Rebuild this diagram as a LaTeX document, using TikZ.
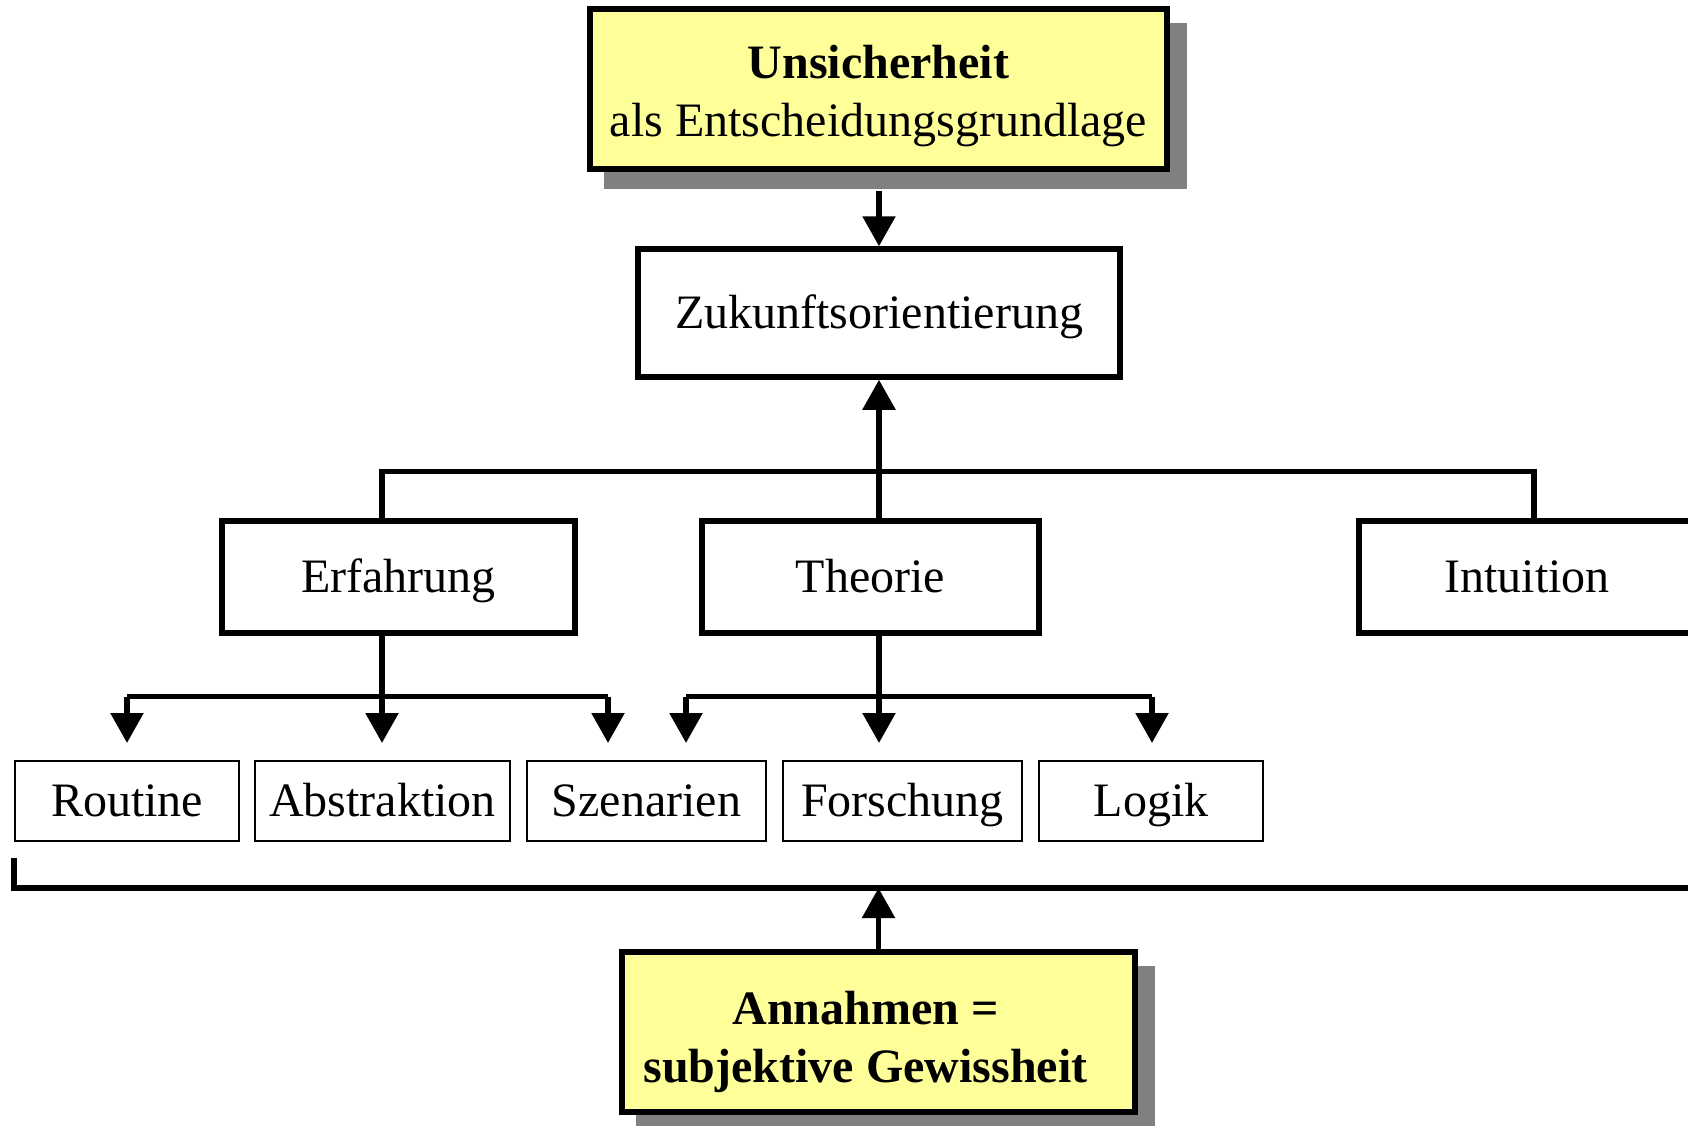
\documentclass[tikz,border=0pt]{standalone}
\usepackage{fontspec}
\setmainfont{Liberation Serif}
\usetikzlibrary{arrows.meta,backgrounds}
\definecolor{boxyellow}{HTML}{FFFF99}
\definecolor{shadowgray}{HTML}{808080}

\begin{document}
\begin{tikzpicture}[x=1pt,y=-1pt,
  font=\fontsize{48}{58}\selectfont,
  mainbox/.style={draw, line width=5.5pt, inner sep=0pt, align=center},
  hibox/.style={mainbox, fill=boxyellow},
  oneline/.style={text height=42.4pt, text depth=10.6pt},
  subbox/.style={draw, line width=2pt, inner sep=0pt, minimum height=80pt, oneline},
  conn/.style={line width=5.5pt},
  arr/.style={conn, -{Triangle[length=30pt,width=32pt]}},
  shadowfill/.style={fill=shadowgray}
]
\useasboundingbox (0,0) rectangle (1688,1126);

% top and bottom highlighted boxes
\node[hibox, minimum width=577pt, minimum height=160pt, text height=106.5pt, text depth=10.5pt]
  (top) at (878.5,89)
  {\textbf{Unsicherheit}\\als Entscheidungsgrundlage};
\node[hibox, minimum width=513pt, minimum height=160pt, text height=110.5pt, text depth=10.5pt]
  (ann) at (878.5,1032)
  {\textbf{Annahmen =}\hspace*{26pt}\\\textbf{subjektive Gewissheit}\hspace*{26pt}};

% middle level
\node[mainbox, oneline, minimum width=482pt, minimum height=128pt] (zuk) at (879,313) {Zukunftsorientierung};
\node[mainbox, oneline, minimum width=353pt, minimum height=112pt] (erf) at (398.5,577) {Erfahrung};
\node[mainbox, oneline, minimum width=337pt, minimum height=112pt] (theo) at (870.5,577) {Theorie};
\node[mainbox, oneline, minimum width=336pt, minimum height=112pt] (int) at (1527,577) {Intuition};

% lower level
\node[subbox, minimum width=224pt] (rout) at (127,801) {Routine};
\node[subbox, minimum width=255pt] (abs) at (382.5,801) {Abstraktion};
\node[subbox, minimum width=239pt] (szen) at (646.5,801) {Szenarien};
\node[subbox, minimum width=239pt] (forsch) at (902.5,801) {Forschung};
\node[subbox, minimum width=224pt] (logik) at (1151,801) {Logik};

% drop shadows
\begin{scope}[on background layer]
  \fill[shadowfill] ([xshift=17pt,yshift=-17pt]top.south west) rectangle ([xshift=17pt,yshift=-17pt]top.north east);
  \fill[shadowfill] ([xshift=17pt,yshift=-17pt]ann.south west) rectangle ([xshift=17pt,yshift=-17pt]ann.north east);
\end{scope}

% helper coordinates
\coordinate (barL) at (382,471.5);
\coordinate (barR) at (1534,471.5);
\coordinate (ebar) at (382,696.5);
\coordinate (tbar) at (879,696.5);
\coordinate (t1) at (127,743);
\coordinate (t2) at (382,743);
\coordinate (t3) at (608,743);
\coordinate (t4) at (686,743);
\coordinate (t5) at (879,743);
\coordinate (t6) at (1152,743);
\coordinate (bk1) at (14,858);
\coordinate (bk2) at (14,888);
\coordinate (bk3) at (1700,888);

% top to Zukunftsorientierung (starts below the shadow)
\draw[arr] ([yshift=-19pt]top.south -| zuk.north) -- (zuk.north);

% upper tree
\draw[conn] (barL |- erf.north) -- (barL) -- (barR) -- (barR |- int.north);
\draw[arr] (theo.north -| zuk.south) -- (zuk.south);

% Erfahrung branches
\draw[conn] (t1 |- ebar) -- (t3 |- ebar);
\draw[arr] (erf.south -| t2) -- (t2);
\draw[arr] (t1 |- ebar) -- (t1);
\draw[arr] (t3 |- ebar) -- (t3);

% Theorie branches
\draw[conn] (t4 |- tbar) -- (t6 |- tbar);
\draw[arr] (theo.south -| t5) -- (t5);
\draw[arr] (t4 |- tbar) -- (t4);
\draw[arr] (t6 |- tbar) -- (t6);

% bracket and Annahmen
\draw[conn] (bk1) -- (bk2) -- (bk3);
\draw[arr] (ann.north) -- (ann.north |- bk2);
\end{tikzpicture}
\end{document}
